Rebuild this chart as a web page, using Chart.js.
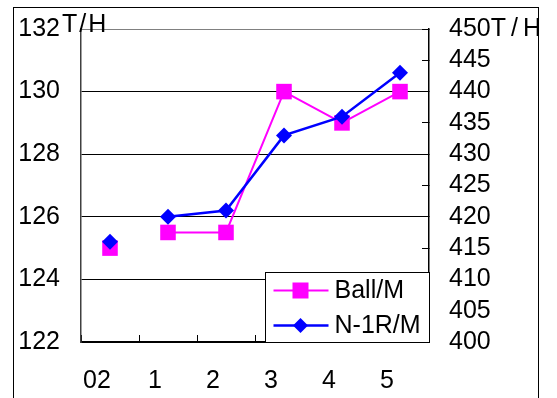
<!DOCTYPE html>
<html>
<head>
<meta charset="utf-8">
<script src="https://cdn.jsdelivr.net/npm/chart.js@4/dist/chart.umd.min.js"></script>
<style>
  html, body { margin: 0; padding: 0; background: #fff; }
  canvas { display: block; }
</style>
</head>
<body>
<canvas id="chart" width="557" height="398"></canvas>
<script>
// Categories and series values
const categories = ["02", "1", "2", "3", "4", "5"];
const ballValues = [125.0, 125.5, 125.5, 130.0, 129.0, 130.0]; // left axis
const n1rValues = [416, 420, 421, 433, 436, 443];             // right axis
const leftUnit = "T/H";
const rightUnit = "T\u2009/\u2009H";

Chart.defaults.font.family = "'Liberation Sans', Arial, sans-serif";
Chart.defaults.font.size = 25;
Chart.defaults.color = "#000";

// Outer frame around the whole chart
const framePlugin = {
  id: "frame",
  beforeDraw(chart) {
    const ctx = chart.ctx;
    ctx.save();
    ctx.strokeStyle = "#000";
    ctx.lineWidth = 1;
    ctx.strokeRect(13.5, 7.5, 525, 420);
    ctx.restore();
  },
};

// Unit text next to the top left tick label
const unitPlugin = {
  id: "unit",
  afterDraw(chart) {
    const ctx = chart.ctx;
    const y = chart.scales.y;
    ctx.save();
    ctx.font = "25px 'Liberation Sans', Arial, sans-serif";
    ctx.fillStyle = "#000";
    ctx.textAlign = "left";
    ctx.textBaseline = "middle";
    ctx.letterSpacing = "2px";
    ctx.fillText(leftUnit, y.right - 19, y.getPixelForValue(132) - 4);
    ctx.restore();
  },
};

// Boxed legend in the lower right corner of the plot
const legendPlugin = {
  id: "boxLegend",
  afterDraw(chart) {
    const ctx = chart.ctx;
    const area = chart.chartArea;
    const w = 164, h = 70;
    const left = area.right - w + 0.5;
    const top = area.bottom - h + 0.5;
    ctx.save();
    ctx.fillStyle = "#fff";
    ctx.fillRect(left, top, w, h);
    ctx.strokeStyle = "#000";
    ctx.lineWidth = 1;
    ctx.strokeRect(left, top, w, h);
    ctx.font = "25px 'Liberation Sans', Arial, sans-serif";
    ctx.textBaseline = "middle";
    chart.data.datasets.forEach((ds, i) => {
      const cy = top + 18 + i * 35;
      const x0 = left + 8, x1 = left + 63, cx = left + 35;
      ctx.strokeStyle = ds.borderColor;
      ctx.lineWidth = ds.borderWidth;
      ctx.beginPath();
      ctx.moveTo(x0, cy);
      ctx.lineTo(x1, cy);
      ctx.stroke();
      ctx.fillStyle = ds.pointBackgroundColor;
      if (ds.pointStyle === "rect") {
        ctx.fillRect(cx - 8, cy - 8, 16, 16);
      } else {
        ctx.beginPath();
        ctx.moveTo(cx, cy - 7.5);
        ctx.lineTo(cx + 7.5, cy);
        ctx.lineTo(cx, cy + 7.5);
        ctx.lineTo(cx - 7.5, cy);
        ctx.closePath();
        ctx.fill();
      }
      ctx.fillStyle = "#000";
      ctx.fillText(ds.label, left + 69, cy + 1);
    });
    ctx.restore();
  },
};

// No line between the first and the second point
const skipFirst = ctx => (ctx.p0DataIndex === 0 ? "rgba(0,0,0,0)" : undefined);

// Fixed axis sizes so the plot sits where it does in the picture
const fixWidth = w => scale => {
  scale.width = w;
  scale.paddingTop = 0;
  scale.paddingBottom = 0;
};

const ctx = document.getElementById("chart").getContext("2d");
const chart = new Chart(ctx, {
  type: "line",
  data: {
    labels: categories,
    datasets: [
      {
        label: "Ball/M",
        data: ballValues,
        yAxisID: "y",
        order: 2,
        borderColor: "#ff00ff",
        borderWidth: 2,
        pointStyle: "rect",
        pointRadius: 11,
        pointBorderWidth: 0,
        pointBackgroundColor: "#ff00ff",
        segment: { borderColor: skipFirst },
      },
      {
        label: "N-1R/M",
        data: n1rValues,
        yAxisID: "y1",
        order: 1,
        borderColor: "#0000ff",
        borderWidth: 2.5,
        pointStyle: "rectRot",
        pointRadius: 8,
        pointBorderWidth: 0,
        pointBackgroundColor: "#0000ff",
        segment: { borderColor: skipFirst },
      },
    ],
  },
  options: {
    responsive: false,
    animation: false,
    layout: { padding: { top: 29, left: 0, right: 0, bottom: 0 } },
    plugins: {
      legend: { display: false },
      tooltip: { enabled: false },
    },
    scales: {
      x: {
        type: "category",
        offset: true,
        afterFit: scale => { scale.height = 56; },
        grid: {
          offset: true,
          drawOnChartArea: false,
          tickLength: -7,
          color: "#000",
        },
        border: { color: "#000", width: 1.5 },
        ticks: { labelOffset: -13, padding: 31, maxRotation: 0, autoSkip: false },
      },
      y: {
        position: "left",
        min: 122,
        max: 132,
        afterFit: fixWidth(81),
        grid: {
          drawTicks: false,
          color: c => (c.tick && c.tick.value === 132 ? "#808080" : "#000"),
        },
        border: { color: "#404040", width: 1.5 },
        ticks: { stepSize: 2, padding: 21, autoSkip: false },
      },
      y1: {
        position: "right",
        min: 400,
        max: 450,
        afterFit: fixWidth(128),
        grid: {
          drawOnChartArea: false,
          tickLength: -7,
          color: "#000",
        },
        border: { color: "#000", width: 1.5 },
        ticks: {
          stepSize: 5,
          padding: 27,
          autoSkip: false,
          callback: v => (v === 450 ? v + rightUnit : v),
        },
      },
    },
  },
  plugins: [framePlugin, unitPlugin, legendPlugin],
});
</script>
</body>
</html>
